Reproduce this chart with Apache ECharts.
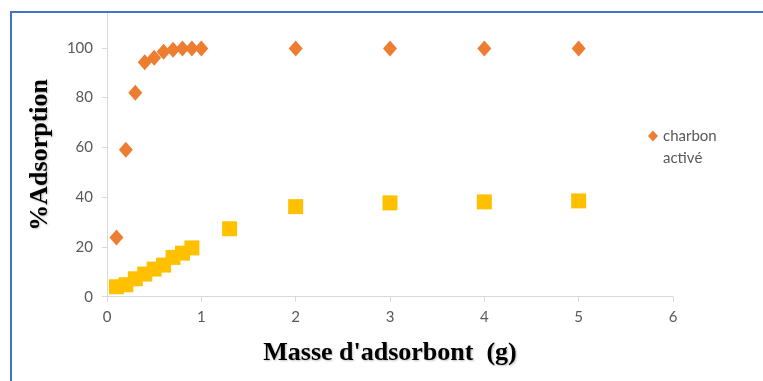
<!DOCTYPE html>
<html><head><meta charset="utf-8">
<script src="https://cdn.jsdelivr.net/npm/echarts@6/dist/echarts.min.js"></script>
<style>
html,body{margin:0;padding:0;background:#fff;}
#wrap{position:relative;width:763px;height:381px;overflow:hidden;}
#chart{position:absolute;left:0;top:0;width:763px;height:381px;}
#frame{position:absolute;left:10px;top:11px;width:800px;height:400px;border-left:2px solid #4472C4;border-top:2px solid #4472C4;pointer-events:none;}
</style></head>
<body><div id="wrap"><div id="chart"></div><div id="frame"></div></div>
<script>
const massCharbon = [0.1,0.2,0.3,0.4,0.5,0.6,0.7,0.8,0.9,1,2,3,4,5];
const adsCharbon  = [23.8,59,82,94.2,96,98.4,99.2,99.7,99.7,99.7,99.7,99.7,99.7,99.7];
const massOther   = [0.1,0.2,0.3,0.4,0.5,0.6,0.7,0.8,0.9,1.3,2,3,4,5];
const adsOther    = [4,4.8,7.2,9.1,11.1,12.7,15.8,17.5,19.6,27.3,36.2,37.7,38.1,38.5];
const yTicks = [0,20,40,60,80,100];
const xTicks = [0,1,2,3,4,5,6];
const legendName = 'charbon activé';

const chart = echarts.init(document.getElementById('chart'), null, {renderer:'canvas'});
const labelStyle = {color:'#595959', fontFamily:'Lato', fontSize:15};
const nameStyle = {color:'#000', fontFamily:'Liberation Serif', fontWeight:'bold', fontSize:26,
  textShadowColor:'rgba(0,0,0,0.25)', textShadowBlur:2, textShadowOffsetX:1, textShadowOffsetY:1};
chart.setOption({
  animation:false,
  backgroundColor:'#fff',
  grid:{left:107, right:90, top:13, bottom:84.3, containLabel:false},
  legend:{
    data:[legendName], left:643, top:98, orient:'vertical',
    icon:'diamond', itemWidth:10, itemHeight:11, itemGap:0,
    formatter: () => ' \ncharbon\nactivé',
    textStyle:{color:'#595959', fontFamily:'Lato', fontSize:15, lineHeight:22}
  },
  xAxis:{
    type:'value', min:0, max:6, interval:1,
    name:"Masse d'adsorbont  (g)", nameLocation:'middle', nameGap:44, nameTextStyle:nameStyle,
    axisLine:{show:true, lineStyle:{color:'#d9d9d9', width:1}},
    axisTick:{show:true, length:5, lineStyle:{color:'#d9d9d9'}},
    axisLabel:Object.assign({margin:13}, labelStyle),
    splitLine:{show:false}
  },
  yAxis:{
    type:'value', min:0, max:114,
    name:'%Adsorption', nameLocation:'middle', nameGap:54, nameTextStyle:nameStyle,
    axisLine:{show:true, lineStyle:{color:'#d9d9d9', width:1}},
    axisTick:{show:true, length:5, customValues:yTicks, lineStyle:{color:'#d9d9d9'}},
    axisLabel:Object.assign({margin:14, customValues:yTicks}, labelStyle),
    splitLine:{show:false}
  },
  series:[
    {name:legendName, type:'scatter', symbol:'diamond', symbolSize:[14,16],
     itemStyle:{color:'#ED7D31', opacity:1},
     data: massCharbon.map((x,i)=>[x, adsCharbon[i]])},
    {name:'autre', type:'scatter', symbol:'rect', symbolSize:15,
     itemStyle:{color:'#FFC000', opacity:1},
     data: massOther.map((x,i)=>[x, adsOther[i]])}
  ]
});
</script></body></html>
